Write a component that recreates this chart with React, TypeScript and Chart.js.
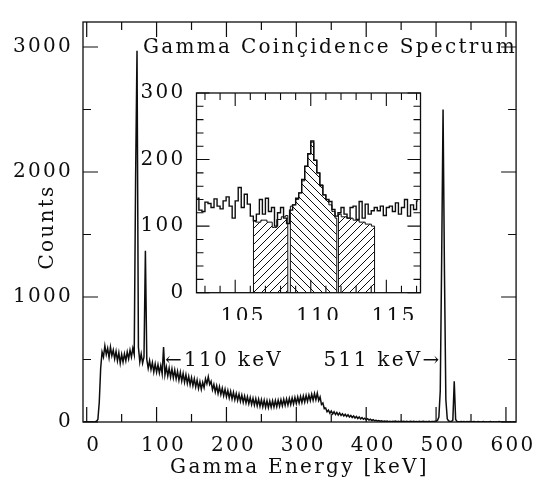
import React, { useEffect, useRef } from "react";
import { Chart, registerables } from "chart.js";

Chart.register(...registerables);

const FONT_FAMILY = '"DejaVu Serif", "Liberation Serif", serif';
const INK = "#0d0d0d";
const LETTER_SPACING = "2.3px";
const FONT_SIZE = 20;

// ---------- main spectrum: counts per 2 keV channel, first channel at -4 keV ----------
const mainStartKeV = -4;
const mainChannelKeV = 2;
const mainCounts = [
  0, 0, 0, 1, 0, 2, 0, 1, 3, 6,
  20, 160, 430, 560, 520, 610, 540, 590, 515, 600,
  530, 575, 505, 565, 490, 555, 470, 540, 480, 545,
  490, 560, 505, 575, 520, 590, 540, 1960, 2970, 600,
  480, 545, 470, 520, 1370, 500, 430, 490, 420, 475,
  400, 465, 398, 458, 392, 452, 385, 600, 378, 440,
  368, 432, 360, 425, 352, 415, 345, 405, 335, 398,
  328, 388, 318, 378, 308, 365, 298, 355, 290, 345,
  280, 335, 268, 322, 262, 318, 275, 345, 305, 362,
  300, 325, 258, 300, 240, 290, 228, 282, 220, 270,
  210, 262, 202, 252, 192, 245, 185, 238, 178, 228,
  172, 222, 165, 215, 158, 208, 152, 202, 146, 196,
  140, 190, 135, 186, 130, 182, 126, 178, 122, 174,
  118, 170, 116, 168, 118, 170, 120, 172, 122, 175,
  126, 178, 130, 182, 133, 185, 136, 188, 140, 192,
  144, 196, 148, 200, 152, 204, 156, 208, 160, 212,
  165, 216, 170, 222, 174, 228, 178, 230, 172, 200,
  140, 152, 106, 112, 82, 95, 70, 88, 65, 82,
  60, 76, 56, 72, 52, 66, 48, 62, 44, 58,
  40, 52, 36, 48, 32, 44, 28, 40, 25, 35,
  22, 30, 18, 26, 15, 22, 12, 18, 10, 14,
  8, 11, 6, 9, 5, 8, 4, 7, 3, 6,
  2, 5, 4, 7, 3, 5, 2, 6, 4, 5,
  3, 6, 2, 4, 5, 3, 6, 2, 4, 3,
  5, 2, 4, 6, 3, 4, 2, 5, 3, 4,
  5, 6, 8, 12, 40, 250, 1300, 2500, 1200, 180,
  25, 8, 5, 4, 15, 326, 20, 4, 3, 2,
  3, 2, 4, 1, 3, 2, 3, 1, 2, 3,
  2, 1, 3, 2, 1, 2, 3, 1, 2, 1,
  2, 3, 1, 2, 1, 2, 1, 3, 2, 1,
  2, 1, 2, 1, 1, 2, 1, 1, 2, 1,
];
const mainXTicks = [0, 100, 200, 300, 400, 500, 600];
const mainYTicks = [0, 1000, 2000, 3000];

// ---------- inset: counts per 0.2 keV bin, first bin centred at 102.5 keV ----------
const insetFirstBinKeV = 102.5;
const insetBinKeV = 0.2;
const insetCounts = [
  142, 124, 122, 136, 134, 128, 141, 130, 126, 138,
  144, 130, 112, 138, 158, 128, 148, 133, 115, 108,
  118, 140, 118, 142, 122, 128, 100, 120, 128, 112,
  104, 124, 132, 142, 150, 170, 190, 209, 228, 199,
  180, 161, 147, 140, 137, 125, 115, 120, 128, 118,
  112, 128, 130, 110, 137, 112, 133, 118, 123, 128,
  123, 130, 116, 128, 130, 122, 135, 118, 128, 140,
  115, 132, 125, 138,
];
const insetXTicks = [105, 110, 115];
const insetYTicks = [0, 100, 200, 300];

// hatched gates
const leftGateKeV = [106.21, 106.21, 106.5, 106.9, 107.3, 107.6, 107.9, 108.2, 108.48, 108.48];
const leftGateCounts = [0, 108, 106, 109, 106, 98, 110, 114, 116, 0];
const midGateKeV = [108.65, 108.65, 108.9, 109.1, 109.3, 109.5, 109.7, 109.9, 110.1, 110.3, 110.5, 110.7, 110.9, 111.1, 111.3, 111.5, 111.72, 111.72];
const midGateCounts = [0, 130, 132, 140, 150, 168, 190, 208, 226, 199, 180, 162, 147, 140, 132, 122, 112, 0];
const rightGateKeV = [111.83, 111.83, 112.2, 112.6, 113.0, 113.4, 113.8, 114.22, 114.22];
const rightGateCounts = [0, 118, 114, 112, 109, 106, 103, 100, 0];

const spacingPlugin = {
  id: "letterSpacing",
  beforeLayout(chart: any) {
    chart.ctx.letterSpacing = LETTER_SPACING;
  },
  beforeDraw(chart: any) {
    chart.ctx.letterSpacing = LETTER_SPACING;
  },
};

function framePlugin(cfg: any) {
  return {
    id: "frameTicks",
    afterDraw(chart: any) {
      const { ctx, chartArea, scales } = chart;
      const { left, right, top, bottom } = chartArea;
      const xs = scales.x;
      const ys = scales.y;
      ctx.save();
      ctx.strokeStyle = INK;
      ctx.lineWidth = cfg.frameWidth;
      ctx.strokeRect(left, top, right - left, bottom - top);
      ctx.lineWidth = cfg.tickWidth;
      ctx.beginPath();
      const k0 = Math.ceil(xs.min / cfg.xMinor - 1e-9);
      const k1 = Math.floor(xs.max / cfg.xMinor + 1e-9);
      for (let k = k0; k <= k1; k++) {
        const v = k * cfg.xMinor;
        const p = xs.getPixelForValue(v);
        const r = v / cfg.xMajor;
        const L = Math.abs(r - Math.round(r)) < 1e-6 ? cfg.major : cfg.minor;
        ctx.moveTo(p, bottom);
        ctx.lineTo(p, bottom - L);
        ctx.moveTo(p, top);
        ctx.lineTo(p, top + L);
      }
      const j0 = Math.ceil(ys.min / cfg.yMinor - 1e-9);
      const j1 = Math.floor(ys.max / cfg.yMinor + 1e-9);
      for (let j = j0; j <= j1; j++) {
        const v = j * cfg.yMinor;
        const p = ys.getPixelForValue(v);
        const r = v / cfg.yMajor;
        const L = Math.abs(r - Math.round(r)) < 1e-6 ? cfg.major : cfg.minor;
        ctx.moveTo(left, p);
        ctx.lineTo(left + L, p);
        ctx.moveTo(right, p);
        ctx.lineTo(right - L, p);
      }
      ctx.stroke();
      if (cfg.extra) cfg.extra(chart);
      ctx.restore();
    },
  };
}

function makeHatch(ctx: CanvasRenderingContext2D, forward: boolean) {
  const c = document.createElement("canvas");
  c.width = 8;
  c.height = 8;
  const g = c.getContext("2d") as CanvasRenderingContext2D;
  g.strokeStyle = INK;
  g.lineWidth = 1;
  g.beginPath();
  if (forward) {
    g.moveTo(-1, 9);
    g.lineTo(9, -1);
    g.moveTo(-1, 1);
    g.lineTo(1, -1);
    g.moveTo(7, 9);
    g.lineTo(9, 7);
  } else {
    g.moveTo(-1, -1);
    g.lineTo(9, 9);
    g.moveTo(7, -1);
    g.lineTo(9, 1);
    g.moveTo(-1, 7);
    g.lineTo(1, 9);
  }
  g.stroke();
  return ctx.createPattern(c, "repeat");
}

const tickFont = { family: FONT_FAMILY, size: FONT_SIZE };
const plainLabel = (v: any) => String(v);

export default function App() {
  const mainRef = useRef<HTMLCanvasElement>(null);
  const insetRef = useRef<HTMLCanvasElement>(null);

  useEffect(() => {
    const mainPoints = mainCounts.map((c, i) => ({ x: mainStartKeV + i * mainChannelKeV, y: c }));
    const main = new Chart(mainRef.current as HTMLCanvasElement, {
      type: "line",
      data: {
        datasets: [
          {
            data: mainPoints,
            borderColor: INK,
            borderWidth: 1.5,
            pointRadius: 0,
            tension: 0,
            fill: false,
          },
        ],
      },
      options: {
        animation: false,
        responsive: false,
        devicePixelRatio: 1,
        events: [],
        layout: { padding: { left: 0, top: 7, right: 22, bottom: 0 } },
        plugins: { legend: { display: false }, tooltip: { enabled: false } },
        scales: {
          x: {
            type: "linear",
            min: -5.3,
            max: 614.5,
            grid: { display: false, drawTicks: false },
            border: { display: false },
            afterBuildTicks: (s: any) => {
              s.ticks = mainXTicks.map((v) => ({ value: v }));
            },
            afterFit: (s: any) => {
              s.height = 65;
            },
            ticks: {
              color: INK,
              font: tickFont,
              padding: 12,
              maxRotation: 0,
              autoSkip: false,
              labelOffset: 7,
              callback: plainLabel,
            },
            title: {
              display: true,
              text: "Gamma Energy [keV]",
              color: INK,
              font: tickFont,
              padding: { top: 0, bottom: 7 },
            },
          },
          y: {
            type: "linear",
            min: 0,
            max: 3200,
            grid: { display: false, drawTicks: false },
            border: { display: false },
            afterBuildTicks: (s: any) => {
              s.ticks = mainYTicks.map((v) => ({ value: v }));
            },
            afterFit: (s: any) => {
              s.width = 83;
            },
            ticks: { color: INK, font: tickFont, padding: 10, autoSkip: false, callback: plainLabel },
          },
        },
      } as any,
      plugins: [
        spacingPlugin,
        framePlugin({
          frameWidth: 1.3,
          tickWidth: 1.2,
          xMinor: 50,
          xMajor: 100,
          yMinor: 500,
          yMajor: 1000,
          major: 15,
          minor: 8,
          extra: (chart: any) => {
            const { ctx, scales } = chart;
            ctx.fillStyle = INK;
            ctx.letterSpacing = LETTER_SPACING;
            ctx.font = `${FONT_SIZE}px ${FONT_FAMILY}`;
            ctx.textBaseline = "alphabetic";
            ctx.textAlign = "left";
            ctx.fillText("Gamma Coinçidence Spectrum", 143, 53);
            ctx.fillText("\u2190110 keV", scales.x.getPixelForValue(112), scales.y.getPixelForValue(450));
            ctx.textAlign = "right";
            ctx.fillText("511 keV\u2192", scales.x.getPixelForValue(508), scales.y.getPixelForValue(450));
            ctx.save();
            ctx.translate(48, 227);
            ctx.rotate(-Math.PI / 2);
            ctx.textAlign = "center";
            ctx.textBaseline = "middle";
            ctx.fillText("Counts", 0, 0);
            ctx.restore();
          },
        }),
      ],
    });

    const insetCanvas = insetRef.current as HTMLCanvasElement;
    const ictx = insetCanvas.getContext("2d") as CanvasRenderingContext2D;
    const hatchFwd = makeHatch(ictx, true);
    const hatchBack = makeHatch(ictx, false);
    const toPts = (xs: number[], ys: number[]) => xs.map((x, i) => ({ x, y: ys[i] }));
    const insetPoints = insetCounts.map((c, i) => ({ x: insetFirstBinKeV + i * insetBinKeV, y: c }));

    const inset = new Chart(insetCanvas, {
      type: "line",
      data: {
        datasets: [
          {
            data: insetPoints,
            borderColor: INK,
            borderWidth: 1.4,
            pointRadius: 0,
            stepped: "middle",
            fill: false,
          },
          {
            data: toPts(leftGateKeV, leftGateCounts),
            borderColor: INK,
            borderWidth: 1,
            pointRadius: 0,
            stepped: "middle",
            backgroundColor: hatchFwd,
            fill: "origin",
          },
          {
            data: toPts(midGateKeV, midGateCounts),
            borderColor: INK,
            borderWidth: 1,
            pointRadius: 0,
            stepped: "middle",
            backgroundColor: hatchBack,
            fill: "origin",
          },
          {
            data: toPts(rightGateKeV, rightGateCounts),
            borderColor: INK,
            borderWidth: 1,
            pointRadius: 0,
            stepped: "middle",
            backgroundColor: hatchFwd,
            fill: "origin",
          },
        ],
      },
      options: {
        animation: false,
        responsive: false,
        devicePixelRatio: 1,
        events: [],
        layout: { padding: { left: 0, top: 13.3, right: 9.5, bottom: 0 } },
        plugins: { legend: { display: false }, tooltip: { enabled: false } },
        scales: {
          x: {
            type: "linear",
            min: 102.44,
            max: 117.26,
            grid: { display: false, drawTicks: false },
            border: { display: false },
            afterBuildTicks: (s: any) => {
              s.ticks = insetXTicks.map((v) => ({ value: v }));
            },
            afterFit: (s: any) => {
              s.height = 27.3;
            },
            ticks: {
              color: INK,
              font: tickFont,
              padding: 12,
              maxRotation: 0,
              autoSkip: false,
              labelOffset: 8,
              callback: plainLabel,
            },
          },
          y: {
            type: "linear",
            min: 0,
            max: 300,
            grid: { display: false, drawTicks: false },
            border: { display: false },
            afterBuildTicks: (s: any) => {
              s.ticks = insetYTicks.map((v) => ({ value: v }));
            },
            afterFit: (s: any) => {
              s.width = 56.5;
            },
            ticks: { color: INK, font: tickFont, padding: 11, autoSkip: false, callback: plainLabel },
          },
        },
      } as any,
      plugins: [
        spacingPlugin,
        framePlugin({
          frameWidth: 1.3,
          tickWidth: 1.1,
          xMinor: 1,
          xMajor: 5,
          yMinor: 20,
          yMajor: 100,
          major: 13,
          minor: 7,
        }),
      ],
    });

    return () => {
      main.destroy();
      inset.destroy();
    };
  }, []);

  return (
    <div
      style={{
        position: "fixed",
        left: 0,
        top: 0,
        width: 541,
        height: 487,
        background: "#ffffff",
      }}
    >
      <canvas
        ref={mainRef}
        width={541}
        height={487}
        style={{ position: "absolute", left: 0, top: 0, width: 541, height: 487 }}
      />
      <canvas
        ref={insetRef}
        width={290}
        height={250}
        style={{ position: "absolute", left: 140, top: 70, width: 290, height: 250 }}
      />
    </div>
  );
}
